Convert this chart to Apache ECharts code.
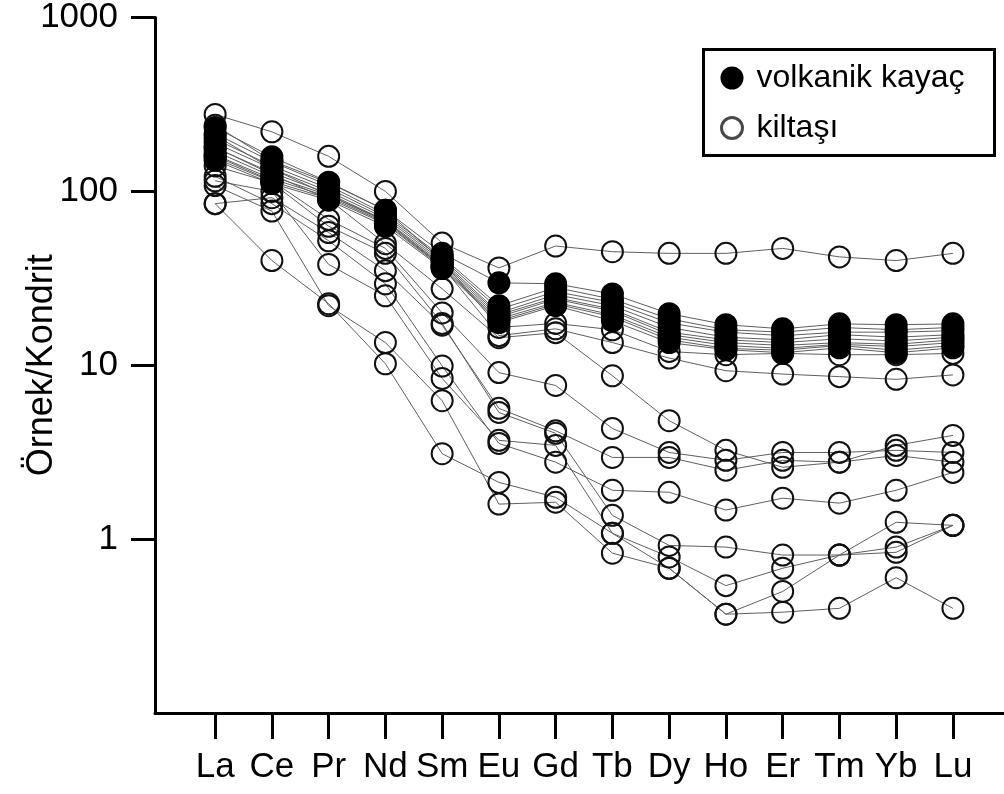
<!DOCTYPE html>
<html>
<head>
<meta charset="utf-8">
<script src="https://cdn.jsdelivr.net/npm/echarts@6/dist/echarts.min.js"></script>
<style>
  html, body { margin: 0; padding: 0; background: #fff; }
  #chart { width: 1004px; height: 794px; }
</style>
</head>
<body>
<div id="chart"></div>
<script>
// Rare earth elements (chondrite-normalised), in plotting order
const elements = ['La', 'Ce', 'Pr', 'Nd', 'Sm', 'Eu', 'Gd', 'Tb', 'Dy', 'Ho', 'Er', 'Tm', 'Yb', 'Lu'];
const yTicks = [1, 10, 100, 1000];

// Volcanic rock samples
const volc1 = [233, 158, 113, 78, 44, 29.8, 29.4, 25.7, 19.8, 17.1, 16.2, 17.3, 17.1, 17.3];
const volc2 = [215, 148, 108, 74, 42, 22, 28, 24, 18.5, 16, 15.5, 16.5, 16, 16.5];
const volc3 = [200, 140, 104, 72, 41, 21, 26.5, 23, 17.5, 15.5, 14.8, 15.5, 15.5, 15.8];
const volc4 = [190, 135, 100, 70, 40, 20, 25.5, 22, 16.5, 14.5, 14, 15, 14.5, 15];
const volc5 = [178, 128, 97, 68, 39, 19.5, 24.5, 21, 15.5, 14, 13.5, 14.2, 13.8, 14.5];
const volc6 = [170, 122, 95, 67, 38, 19, 24, 20.5, 15, 13.5, 13, 13.5, 13.2, 14];
const volc7 = [162, 118, 93, 66, 37, 18.5, 23, 19.5, 14.5, 13, 12.5, 13.2, 12.8, 13.5];
const volc8 = [155, 114, 91, 65, 36.5, 18, 22.5, 19, 14, 12.5, 12.2, 13, 12.2, 13];
const volc9 = [151, 111, 89, 63, 36, 17.6, 22, 18, 13.5, 12.3, 11.8, 12.6, 11.8, 12.6];

// Claystone samples
const clay1  = [277, 220, 159, 100, 50.4, 36.3, 48.5, 45, 44, 44, 47, 42, 40, 44];
const clay2  = [240, 150, 112, 78, 40, 16.5, 17.4, 16, 12.0, 11.5, 11.7, 11.5, 11.5, 11.7];
const clay3  = [210, 135, 95, 68, 37, 14.8, 16.2, 13.5, 11.0, 9.3, 8.9, 8.6, 8.3, 8.8];
const clay4  = [180, 125, 90, 50, 27.5, 14.4, 15.4, 8.7, 4.8, 3.24, 2.59, 2.77, 3.46, 3.95];
const clay5  = [160, 115, 69, 47, 20.0, 9.07, 7.65, 4.33, 3.15, 2.84, 3.15, 3.15, 3.24, 3.15];
const clay6  = [140, 112, 63, 44, 17.4, 5.35, 4.06, 1.37, 0.92, 0.90, 0.81, 0.81, 0.84, 1.2];
const clay7  = [85, 92, 58, 35, 17.0, 5.65, 4.2, 2.95, 2.95, 2.49, 2.84, 2.77, 3.03, 2.77];
const clay8  = [122, 85, 52, 29.4, 9.9, 3.55, 2.77, 1.91, 1.86, 1.47, 1.72, 1.61, 1.91, 2.42];
const clay9  = [115, 100, 38, 25.1, 8.4, 3.70, 3.46, 1.08, 0.79, 0.54, 0.68, 0.81, 0.90, 1.2];
const clay10 = [108, 77, 22, 13.5, 6.25, 1.59, 1.63, 0.83, 0.68, 0.37, 0.38, 0.40, 0.60, 0.40];
const clay11 = [85, 40, 22.6, 10.2, 3.1, 2.12, 1.74, 1.08, 0.68, 0.37, 0.50, 0.81, 1.25, 1.2];

const volcanic = [volc1, volc2, volc3, volc4, volc5, volc6, volc7, volc8, volc9];
const claystone = [clay1, clay2, clay3, clay4, clay5, clay6, clay7, clay8, clay9, clay10, clay11];

const VOLC = 'volkanik kayaç';
const CLAY = 'kiltaşı';

const toPoints = arr => arr.map((v, i) => [i, v]);

const series = [];
function addSample(values, name, filled) {
  // connecting line, kept beneath every marker
  series.push({
    type: 'line',
    data: toPoints(values),
    symbol: 'none',
    silent: true,
    z: 2,
    lineStyle: { color: '#5f5f5f', width: 1, opacity: 1 },
    legendHoverLink: false
  });
  series.push({
    name: name,
    type: 'scatter',
    data: toPoints(values),
    symbol: 'circle',
    symbolSize: 21,
    z: filled ? 4 : 3,
    itemStyle: filled
      ? { color: '#000', borderColor: '#000', borderWidth: 2, opacity: 1 }
      : { color: 'rgba(255,255,255,0)', borderColor: '#111', borderWidth: 2, opacity: 1 }
  });
}
claystone.forEach(s => addSample(s, CLAY, false));
volcanic.forEach(s => addSample(s, VOLC, true));

const FONT = '"Liberation Sans", Arial, sans-serif';

const chart = echarts.init(document.getElementById('chart'), null, { renderer: 'canvas' });
chart.setOption({
  animation: false,
  backgroundColor: '#fff',
  grid: { left: 155, right: 0, top: 16, bottom: 81, containLabel: false },
  graphic: [{
    type: 'rect',
    left: 702,
    top: 48,
    shape: { width: 291, height: 106 },
    style: { fill: '#fff', stroke: '#000', lineWidth: 3 },
    z: 90
  }],
  legend: {
    data: [
      { name: VOLC, icon: 'circle', itemStyle: { color: '#000', borderColor: '#000', borderWidth: 2 } },
      { name: CLAY, icon: 'circle', itemStyle: { color: '#fff', borderColor: '#4a4a4a', borderWidth: 3 } }
    ],
    orient: 'vertical',
    left: 720,
    top: 62,
    padding: 0,
    itemGap: 18,
    itemWidth: 21,
    itemHeight: 21,
    z: 100,
    selectedMode: false,
    textStyle: { fontFamily: FONT, fontSize: 32, color: '#000', padding: [0, 0, 0, 9] }
  },
  xAxis: {
    type: 'value',
    min: -1.06,
    max: 13.9,
    splitLine: { show: false },
    axisLine: { show: true, onZero: false, lineStyle: { color: '#000', width: 3 } },
    axisTick: {
      show: true, length: 26, inside: false,
      customValues: elements.map((e, i) => i),
      lineStyle: { color: '#000', width: 3 }
    },
    axisLabel: {
      customValues: elements.map((e, i) => i),
      formatter: v => elements[Math.round(v)] || '',
      margin: 37,
      fontFamily: FONT,
      fontSize: 35,
      color: '#000'
    }
  },
  yAxis: {
    type: 'log',
    logBase: 10,
    min: 0.1,
    max: 1000,
    name: 'Örnek/Kondrit',
    nameLocation: 'middle',
    nameGap: 95,
    nameMoveOverlap: false,
    nameTextStyle: { fontFamily: FONT, fontSize: 36, color: '#000' },
    splitLine: { show: false },
    axisLine: { show: true, onZero: false, lineStyle: { color: '#000', width: 3 } },
    axisTick: {
      show: true, length: 24, inside: false,
      customValues: yTicks,
      lineStyle: { color: '#000', width: 3 }
    },
    axisLabel: {
      customValues: yTicks,
      formatter: v => String(v),
      margin: 37,
      fontFamily: FONT,
      fontSize: 35,
      color: '#000'
    }
  },
  series: series
});
</script>
</body>
</html>
